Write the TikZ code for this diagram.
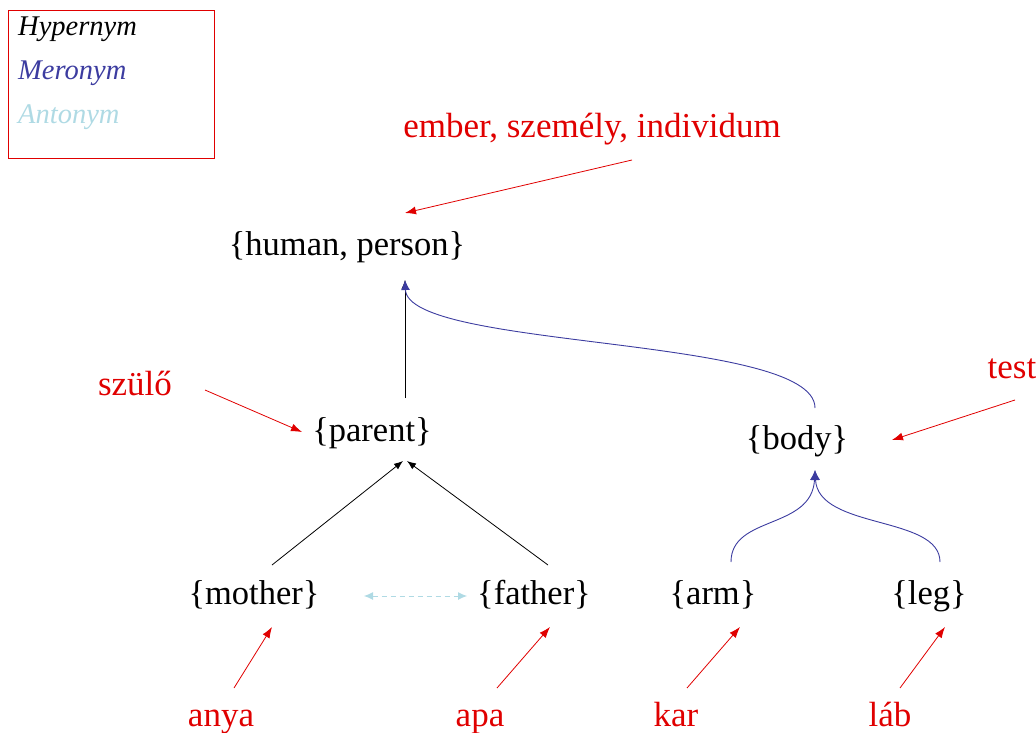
\documentclass[tikz,border=0pt]{standalone}
\usepackage{fontspec}
\setmainfont{Liberation Serif}
\usetikzlibrary{arrows.meta}
\definecolor{labelred}{RGB}{224,0,0}
\definecolor{merblue}{RGB}{60,60,160}
\definecolor{antblue}{RGB}{175,218,228}
\tikzset{
  word/.style={inner sep=0pt, anchor=base, font=\fontsize{34.5}{40}\selectfont},
  gloss/.style={word, text=labelred, font=\fontsize{35}{40}\selectfont},
  legendtext/.style={inner sep=0pt, anchor=base west, font=\fontsize{28.5}{32}\selectfont\itshape},
  hyper/.style={draw=black, line width=0.8pt, -{Latex[length=9pt,width=7pt]}},
  mero/.style={draw=merblue, line width=0.9pt, -{Latex[length=10pt,width=9pt]}},
  anto/.style={draw=antblue, line width=0.9pt, dashed, dash pattern=on 5pt off 4pt,
    {Latex[length=9pt,width=8pt]}-{Latex[length=9pt,width=8pt]}},
  glossarrow/.style={draw=labelred, line width=0.8pt, -{Latex[length=11pt,width=8pt]}},
}
\begin{document}
\begin{tikzpicture}[x=1pt,y=-1pt]
\useasboundingbox (0,0) rectangle (1036,733);

% legend
\node[draw=labelred, line width=0.8pt, minimum width=206pt, minimum height=148pt, inner sep=0pt, anchor=north west] (legend) at (8,10) {};
\node[legendtext] (lhyp) at (18,36) {Hypernym};
\node[legendtext, text=merblue] (lmer) at (18,80) {Meronym};
\node[legendtext, text=antblue] (lant) at (18,124) {Antonym};

% synsets
\node[word] (human) at (347,255) {\{human, person\}};
\node[word] (parent) at (372,441) {\{parent\}};
\node[word] (body) at (797,449) {\{body\}};
\node[word] (mother) at (254,604) {\{mother\}};
\node[word] (father) at (534,604) {\{father\}};
\node[word] (arm) at (713,604) {\{arm\}};
\node[word] (leg) at (929,604) {\{leg\}};

% Hungarian glosses
\node[gloss] (ember) at (592,138) {ember, személy, individum};
\node[gloss] (szulo) at (135,395) {szülő};
\node[gloss] (test) at (1012,378) {test};
\node[gloss] (anya) at (221,726) {anya};
\node[gloss] (apa) at (480,726) {apa};
\node[gloss] (kar) at (676,726) {kar};
\node[gloss] (lab) at (890,726) {láb};

% connector end points
\coordinate (humanIn) at (405,280);
\coordinate (parentOut) at (405,398);
\coordinate (bodyOut) at (815,408);
\coordinate (parentIn) at (405,461);
\coordinate (motherOut) at (272,565);
\coordinate (fatherOut) at (548,565);
\coordinate (bodyIn) at (815,470);
\coordinate (armOut) at (731,562);
\coordinate (legOut) at (940,562);
\coordinate (motherR) at (364,596);
\coordinate (fatherL) at (467,596);

% hypernym links
\draw[hyper] (parentOut) -- (humanIn);
\draw[hyper] (motherOut) -- ([xshift=-2pt]parentIn);
\draw[hyper] (fatherOut) -- ([xshift=2pt]parentIn);

% meronym links
\draw[mero] (bodyOut) .. controls (815,335) and (408,350) .. (humanIn);
\draw[mero] (armOut) .. controls (731,515) and (812,530) .. (bodyIn);
\draw[mero] (legOut) .. controls (940,515) and (818,530) .. (bodyIn);

% antonym link
\draw[anto] (motherR) -- (fatherL);

% gloss pointers
\coordinate (emberS) at (632,160);
\coordinate (humanT) at (405,213);
\coordinate (szuloS) at (205,390);
\coordinate (parentT) at (302,432);
\coordinate (testS) at (1015,400);
\coordinate (bodyT) at (892,440);
\coordinate (anyaS) at (234,688);
\coordinate (motherT) at (272,627);
\coordinate (apaS) at (497,688);
\coordinate (fatherT) at (550,627);
\coordinate (karS) at (687,688);
\coordinate (armT) at (740,627);
\coordinate (labS) at (900,688);
\coordinate (legT) at (945,627);
\draw[glossarrow] (emberS) -- (humanT);
\draw[glossarrow] (szuloS) -- (parentT);
\draw[glossarrow] (testS) -- (bodyT);
\draw[glossarrow] (anyaS) -- (motherT);
\draw[glossarrow] (apaS) -- (fatherT);
\draw[glossarrow] (karS) -- (armT);
\draw[glossarrow] (labS) -- (legT);
\end{tikzpicture}
\end{document}
